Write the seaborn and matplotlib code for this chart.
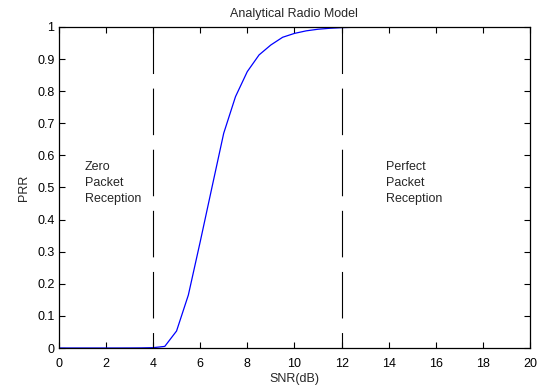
import numpy as np
import pandas as pd
import matplotlib
matplotlib.use('Agg')
import matplotlib.pyplot as plt
import seaborn as sns

# values
snr_db = [0, 0.5, 1, 1.5, 2, 2.5, 3, 3.5, 4, 4.5, 5, 5.5, 6, 6.5, 7, 7.5, 8,
          8.5, 9, 9.5, 10, 10.5, 11, 11.5, 12, 12.5, 13, 14, 15, 16, 17, 18, 19, 20]
prr = [0, 0, 0, 0, 0, 0, 0.0001, 0.0003, 0.001, 0.005, 0.053, 0.165, 0.33, 0.50,
       0.669, 0.783, 0.861, 0.913, 0.944, 0.968, 0.980, 0.988, 0.993, 0.996,
       0.998, 0.999, 1, 1, 1, 1, 1, 1, 1, 1]
region_edges = [4, 12]
x_ticks = list(range(0, 21, 2))
y_ticks = [0, 0.1, 0.2, 0.3, 0.4, 0.5, 0.6, 0.7, 0.8, 0.9, 1]
y_tick_labels = ['0', '0.1', '0.2', '0.3', '0.4', '0.5', '0.6', '0.7', '0.8', '0.9', '1']

sns.set_theme(style='ticks')
plt.rcParams.update({
    'font.family': ['Liberation Sans', 'DejaVu Sans'],
    'font.size': 9,
    'xtick.direction': 'in',
    'ytick.direction': 'in',
    'xtick.top': True,
    'ytick.right': True,
    'xtick.major.size': 4,
    'ytick.major.size': 4,
    'xtick.major.width': 0.8,
    'ytick.major.width': 0.8,
    'xtick.labelsize': 9,
    'ytick.labelsize': 9,
    'axes.edgecolor': 'black',
    'axes.linewidth': 0.9,
    'lines.scale_dashes': False,
})

df = pd.DataFrame({'SNR': snr_db, 'PRR': prr})

fig = plt.figure(figsize=(5.46, 3.85), dpi=100)
ax = fig.add_axes([0.1075, 0.0961, 0.8635, 0.8338])

sns.lineplot(data=df, x='SNR', y='PRR', ax=ax, color='#0000FF', linewidth=0.9)

# region boundaries, dashed from the top down
for xe in region_edges:
    ax.plot([xe, xe], [1, 0], color='black', linewidth=0.8, dashes=(33.5, 10.5))

ax.text(1.1, 0.514, 'Zero\nPacket\nReception', ha='left', va='center',
        fontsize=9, linespacing=1.45)
ax.text(13.9, 0.514, 'Perfect\nPacket\nReception', ha='left', va='center',
        fontsize=9, linespacing=1.45)

ax.set_xlim(0, 20)
ax.set_ylim(0, 1)
ax.set_xticks(x_ticks)
ax.set_yticks(y_ticks)
ax.set_yticklabels(y_tick_labels)
ax.tick_params(axis='x', colors='black', pad=7)
ax.tick_params(axis='y', colors='black', pad=3)
for s in ax.spines.values():
    s.set_visible(True)

ax.set_title('Analytical Radio Model', fontsize=9, pad=7)
ax.set_xlabel('SNR(dB)', fontsize=9, labelpad=2)
ax.set_ylabel('PRR', fontsize=9, labelpad=5)

fig.savefig('out.png', dpi=100)
